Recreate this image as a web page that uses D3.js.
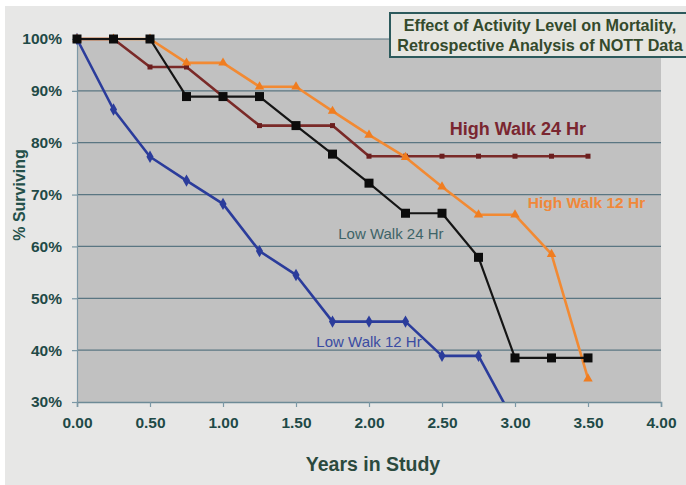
<!DOCTYPE html>
<html>
<head>
<meta charset="utf-8">
<script src="https://cdn.jsdelivr.net/npm/d3@7"></script>
<style>
  html, body { margin: 0; padding: 0; background: #ffffff; }
  svg { display: block; font-family: Arial, "Liberation Sans", sans-serif; }
</style>
</head>
<body>
<svg id="chart" width="686" height="485"></svg>
<script>
// Survival by activity level (Kaplan–Meier style step estimates)
const years = [0, 0.25, 0.5, 0.75, 1.0, 1.25, 1.5, 1.75, 2.0, 2.25, 2.5, 2.75, 3.0, 3.25, 3.5];

const lowWalk12 = [100, 86.4, 77.3, 72.7, 68.2, 59.1, 54.5, 45.5, 45.5, 45.5, 38.9, 38.9, 25.9];
const lowWalk24 = [100, 100, 100, 88.9, 88.9, 88.9, 83.3, 77.8, 72.2, 66.4, 66.4, 57.9, 38.5, 38.5, 38.5];
const highWalk24 = [100, 100, 94.6, 94.6, 88.9, 83.3, 83.3, 83.3, 77.4, 77.4, 77.4, 77.4, 77.4, 77.4, 77.4];
const highWalk12 = [100, 100, 100, 95.4, 95.4, 90.8, 90.8, 86.1, 81.5, 77.2, 71.5, 66.1, 66.1, 58.5, 34.5];

const xTicks = [0, 0.5, 1.0, 1.5, 2.0, 2.5, 3.0, 3.5, 4.0];
const yTicks = [30, 40, 50, 60, 70, 80, 90, 100];

const titleLines = ["Effect of Activity Level on Mortality,", "Retrospective Analysis of NOTT Data"];

const svg = d3.select("#chart");
const W = 686, H = 485;
const plot = { left: 77, top: 39, width: 584, height: 363 };

const x = d3.scaleLinear().domain([0, 4]).range([plot.left, plot.left + plot.width]);
const y = d3.scaleLinear().domain([30, 100]).range([plot.top + plot.height, plot.top]);

// page background
svg.append("rect").attr("x", 0).attr("y", 0).attr("width", W).attr("height", H).attr("fill", "#ffffff");
svg.append("rect").attr("x", 5).attr("y", 6).attr("width", W - 5).attr("height", H - 6).attr("fill", "#e7e7e6");

// plot area
svg.append("rect")
  .attr("x", plot.left).attr("y", plot.top)
  .attr("width", plot.width).attr("height", plot.height)
  .attr("fill", "#c1c1c1");

// horizontal gridlines
svg.append("g")
  .selectAll("line")
  .data(yTicks.filter(d => d > 30))
  .join("line")
  .attr("x1", plot.left).attr("x2", plot.left + plot.width)
  .attr("y1", d => y(d)).attr("y2", d => y(d))
  .attr("stroke", "#5a7682").attr("stroke-width", 1.2);

const tickColor = "#1f4a47";

// x axis
const xAxis = svg.append("g")
  .attr("transform", `translate(0,${plot.top + plot.height})`)
  .call(d3.axisBottom(x).tickValues(xTicks).tickFormat(d3.format(".2f")).tickSize(5).tickPadding(10));
xAxis.select(".domain").attr("stroke", "#6d8a96").attr("stroke-width", 1.5);
xAxis.selectAll(".tick line").attr("stroke", "#7b98a6").attr("stroke-width", 1.2);
xAxis.selectAll(".tick text")
  .attr("fill", tickColor).attr("font-size", 15.5).attr("font-weight", "bold");

// y axis
const yAxis = svg.append("g")
  .attr("transform", `translate(${plot.left},0)`)
  .call(d3.axisLeft(y).tickValues(yTicks).tickFormat(d => d + "%").tickSize(5).tickPadding(10));
yAxis.select(".domain").attr("stroke", "#7d98a6").attr("stroke-width", 1.2);
yAxis.selectAll(".tick line").attr("stroke", "#7b98a6").attr("stroke-width", 1.2);
yAxis.selectAll(".tick text")
  .attr("fill", tickColor).attr("font-size", 15.5).attr("font-weight", "bold");

// axis titles
svg.append("text")
  .attr("x", 373).attr("y", 471)
  .attr("text-anchor", "middle")
  .attr("font-size", 19.5).attr("font-weight", "bold")
  .attr("fill", "#2b4a3e")
  .text("Years in Study");

svg.append("text")
  .attr("transform", "translate(25,195) rotate(-90)")
  .attr("text-anchor", "middle")
  .attr("font-size", 16).attr("font-weight", "bold")
  .attr("fill", "#24504a")
  .text("% Surviving");

// series
svg.append("clipPath").attr("id", "plotClip")
  .append("rect").attr("x", plot.left - 6).attr("y", plot.top - 8)
  .attr("width", plot.width + 12).attr("height", plot.height + 8);

const series = [
  { name: "Low Walk 12 Hr", values: lowWalk12, color: "#2b3c9b", width: 2.6, marker: "diamond", size: 7, markerFill: "#2b3c9b" },
  { name: "High Walk 24 Hr", values: highWalk24, color: "#7a2a28", width: 2.6, marker: "square", size: 5, markerFill: "#6b1e1e" },
  { name: "High Walk 12 Hr", values: highWalk12, color: "#f28a33", width: 2.6, marker: "triangle", size: 8, markerFill: "#f07d20" },
  { name: "Low Walk 24 Hr", values: lowWalk24, color: "#151515", width: 2.2, marker: "square", size: 9, markerFill: "#0c0c0c" }
];

const line = d3.line().x(d => x(d[0])).y(d => y(d[1]));
const layer = svg.append("g").attr("clip-path", "url(#plotClip)");

series.forEach(s => {
  const pts = s.values.map((v, i) => [years[i], v]);
  layer.append("path")
    .datum(pts)
    .attr("d", line)
    .attr("fill", "none")
    .attr("stroke", s.color)
    .attr("stroke-width", s.width)
    .attr("stroke-linejoin", "round");

  const g = layer.append("g");
  const visible = pts.filter(p => p[1] >= 30);
  if (s.marker === "square") {
    g.selectAll("rect").data(visible).join("rect")
      .attr("x", p => x(p[0]) - s.size / 2).attr("y", p => y(p[1]) - s.size / 2)
      .attr("width", s.size).attr("height", s.size)
      .attr("fill", s.markerFill);
  } else if (s.marker === "diamond") {
    g.selectAll("path").data(visible).join("path")
      .attr("d", d3.symbol(d3.symbolDiamond, s.size * s.size * 0.9))
      .attr("transform", p => `translate(${x(p[0])},${y(p[1])})`)
      .attr("fill", s.markerFill);
  } else {
    g.selectAll("path").data(visible).join("path")
      .attr("d", d3.symbol(d3.symbolTriangle, s.size * s.size * 0.6))
      .attr("transform", p => `translate(${x(p[0])},${y(p[1])})`)
      .attr("fill", s.markerFill);
  }
});

// series labels (centred on the given data position)
const labels = [
  { text: "High Walk 24 Hr", xv: 3.02, yv: 82.4, color: "#7a2630", size: 18, weight: "bold" },
  { text: "High Walk 12 Hr", xv: 3.49, yv: 68.2, color: "#f0883a", size: 15.5, weight: "bold" },
  { text: "Low Walk 24 Hr", xv: 2.15, yv: 62.2, color: "#3e6468", size: 15, weight: "normal" },
  { text: "Low Walk 12 Hr", xv: 2.0, yv: 41.3, color: "#3a4ca2", size: 15, weight: "normal" }
];
svg.append("g").selectAll("text").data(labels).join("text")
  .attr("x", d => x(d.xv)).attr("y", d => y(d.yv))
  .attr("text-anchor", "middle")
  .attr("dominant-baseline", "middle")
  .attr("font-size", d => d.size)
  .attr("font-weight", d => d.weight)
  .attr("fill", d => d.color)
  .text(d => d.text);

// title box
svg.append("rect")
  .attr("x", 390).attr("y", 13).attr("width", 300).attr("height", 44)
  .attr("fill", "#e6e6e1").attr("stroke", "#2c5a5c").attr("stroke-width", 2);
svg.append("g").selectAll("text").data(titleLines).join("text")
  .attr("x", 540).attr("y", (d, i) => 31 + i * 19.5)
  .attr("text-anchor", "middle")
  .attr("font-size", 16.2).attr("font-weight", "bold")
  .attr("fill", "#344a2c")
  .text(d => d);
</script>
</body>
</html>
